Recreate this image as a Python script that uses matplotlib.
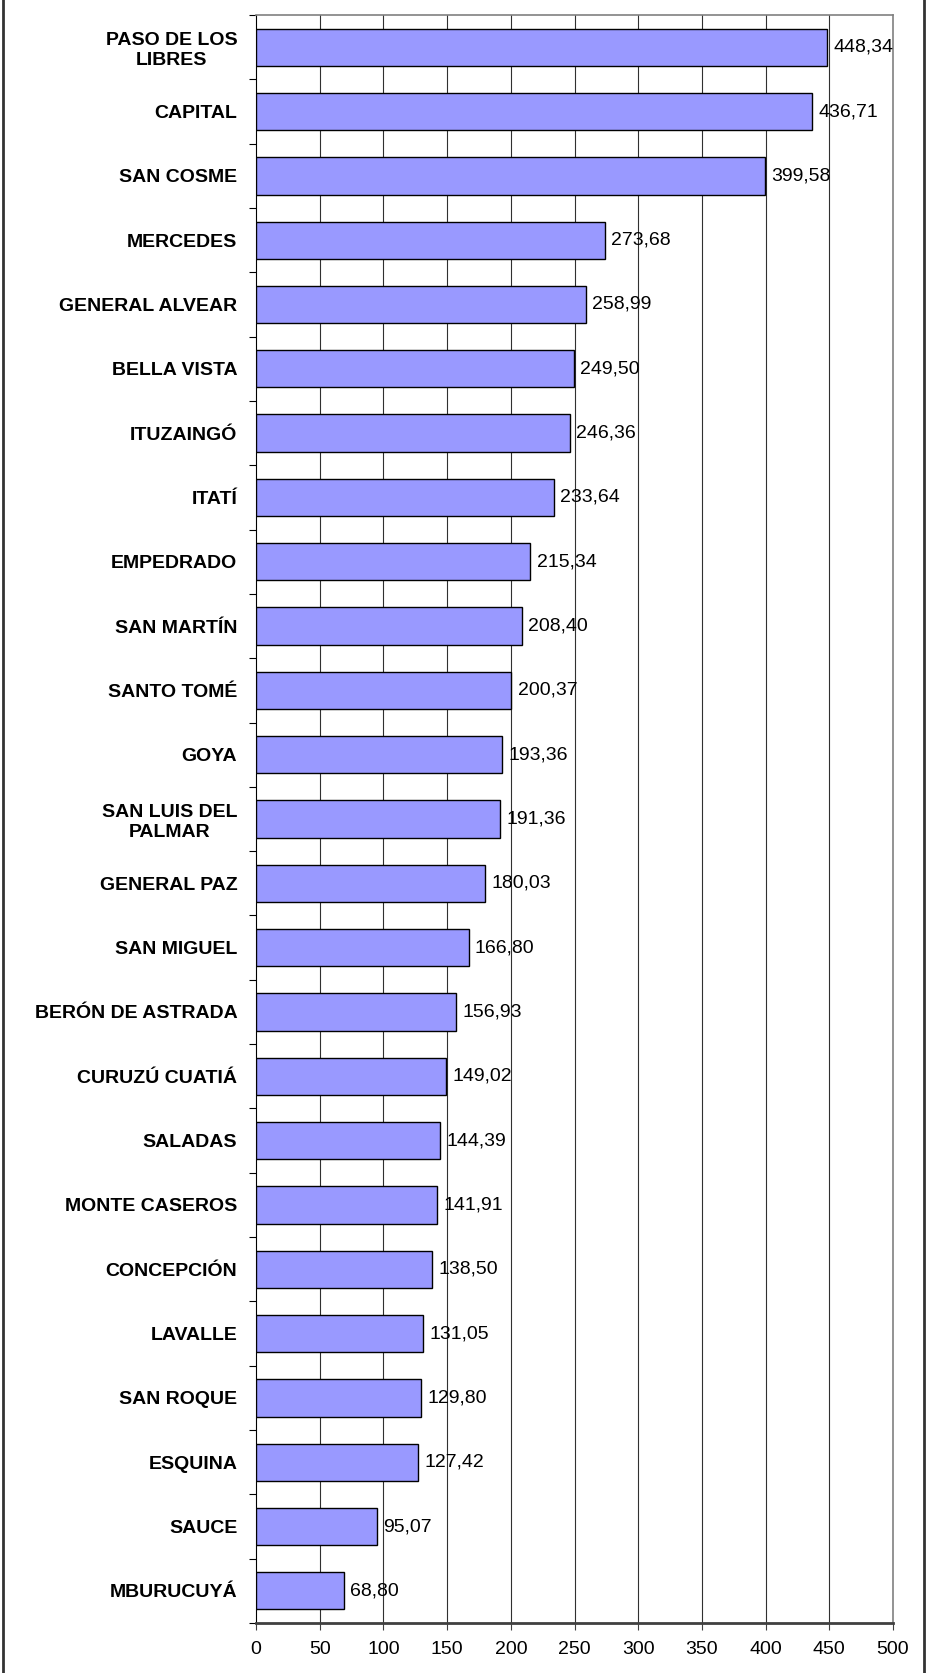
import matplotlib.pyplot as plt
import numpy as np

plt.rcParams['font.family'] = ['Liberation Sans', 'DejaVu Sans']

# departamentos, de arriba hacia abajo
departamentos = ["PASO DE LOS\nLIBRES", "CAPITAL", "SAN COSME", "MERCEDES", "GENERAL ALVEAR",
                 "BELLA VISTA", "ITUZAINGÓ", "ITATÍ", "EMPEDRADO", "SAN MARTÍN",
                 "SANTO TOMÉ", "GOYA", "SAN LUIS DEL\nPALMAR", "GENERAL PAZ", "SAN MIGUEL",
                 "BERÓN DE ASTRADA", "CURUZÚ CUATIÁ", "SALADAS", "MONTE CASEROS", "CONCEPCIÓN",
                 "LAVALLE", "SAN ROQUE", "ESQUINA", "SAUCE", "MBURUCUYÁ"]
valores = [448.34, 436.71, 399.58, 273.68, 258.99,
           249.50, 246.36, 233.64, 215.34, 208.40,
           200.37, 193.36, 191.36, 180.03, 166.80,
           156.93, 149.02, 144.39, 141.91, 138.50,
           131.05, 129.80, 127.42, 95.07, 68.80]
xticks = [0, 50, 100, 150, 200, 250, 300, 350, 400, 450, 500]

fig = plt.figure(figsize=(9.27, 16.73), dpi=100)
ax = fig.add_axes([0.2762, 0.0299, 0.6871, 0.9611])

n = len(valores)
y = np.arange(n)
ax.barh(y, valores, height=0.58, color='#9999FF', edgecolor='black', linewidth=1.0, zorder=3)

for yi, v in zip(y, valores):
    ax.text(v + 5, yi, f"{v:.2f}".replace(".", ","), va='center', ha='left', fontsize=14, zorder=4)

ax.set_xlim(0, 500)
ax.set_ylim(n - 0.5, -0.5)

# rejilla vertical
for xt in xticks[1:-1]:
    ax.axvline(xt, color='#303030', linewidth=0.8, zorder=1)

ax.set_xticks(xticks)
ax.set_xticklabels([str(t) for t in xticks], fontsize=14)
ax.tick_params(axis='x', direction='out', length=5, width=0.8, pad=8, color='#404040')

# marcas en los limites de categoria, etiquetas en el centro
ax.set_yticks(np.arange(-0.5, n, 1.0))
ax.set_yticklabels([])
ax.tick_params(axis='y', which='major', direction='out', length=5, width=0.8)
ax.set_yticks(y, minor=True)
ax.set_yticklabels(departamentos, minor=True, fontsize=14, fontweight='bold', ha='right',
                   multialignment='center', linespacing=1.25)
ax.tick_params(axis='y', which='minor', length=0, pad=13.5)

ax.spines['left'].set_color('black')
ax.spines['bottom'].set_color('#404040')
ax.spines['bottom'].set_linewidth(2)
ax.spines['top'].set_color('#808080')
ax.spines['right'].set_color('#808080')
ax.spines['top'].set_linewidth(1.2)
ax.spines['right'].set_linewidth(1.2)

# borde exterior del grafico
fig.add_artist(plt.Line2D([0.003, 0.003], [0, 1], color='#333333', linewidth=2))
fig.add_artist(plt.Line2D([0.997, 0.997], [0, 1], color='#333333', linewidth=2))

fig.savefig('out.png', dpi=100)
